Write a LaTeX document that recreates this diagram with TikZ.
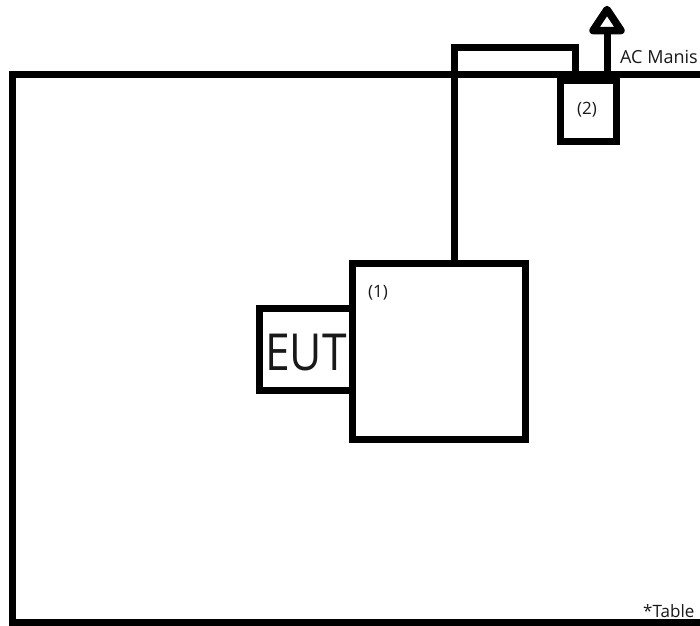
\documentclass[tikz,border=0pt]{standalone}
\usepackage{fontspec}
\setmainfont{Open Sans}
\begin{document}
\begin{tikzpicture}[x=1pt,y=-1pt,
  wire/.style={line width=7pt, line join=miter},
  boxnode/.style={draw, line width=7pt, fill=white, inner sep=0pt, outer sep=0pt},
  lbl/.style={inner sep=0pt, font=\fontsize{17}{20}\selectfont, text=black!90}
]
\useasboundingbox (0,0) rectangle (700,625);
\clip (0,0) rectangle (700,625);
\fill[white] (0,0) rectangle (700,625);
% table outline
\draw[wire] (12.5,74) rectangle (730,622.5);
% coordinates for wires
\coordinate (w1) at (454,47);
\coordinate (w2) at (575,47);
\coordinate (acstem) at (607,31);
% boxes
\node[boxnode, minimum width=56pt, minimum height=61.5pt] (box2) at (588,110.75) {};
\node[boxnode, minimum width=172.5pt, minimum height=176pt] (box1) at (438.75,351) {};
\node[boxnode, minimum width=93pt, minimum height=82pt] (eut) at (306,349.5) {};
\draw[wire] (box1.west |- eut.north) -- (box1.west |- eut.south);
% wire from (1) to (2)
\draw[wire] (box1.north -| w1) -- (w1) -- (w2) -- (w2 |- box2.north);
% AC mains arrow
\draw[wire] (box2.north -| acstem) -- (acstem);
\draw[line width=7.5pt, line join=round] (593,30.5) -- (621,30.5) -- (607,9.5) -- cycle;
% texts
\node[inner sep=0pt, anchor=base, font=\fontsize{51}{60}\selectfont, text=black!90] (euttext) at (306,370) {\scalebox{0.87}[1]{EUT}};
\node[lbl, anchor=center] (l1) at (378,293) {(1)};
\node[lbl, anchor=center] (l2) at (587,110) {(2)};
\node[lbl, anchor=base west, font=\fontsize{18}{21}\selectfont] (ac) at (620,63) {AC Manis};
\node[lbl, anchor=base west, font=\fontsize{17}{20}\selectfont] (tab) at (643,617) {*Table};
\end{tikzpicture}
\end{document}
